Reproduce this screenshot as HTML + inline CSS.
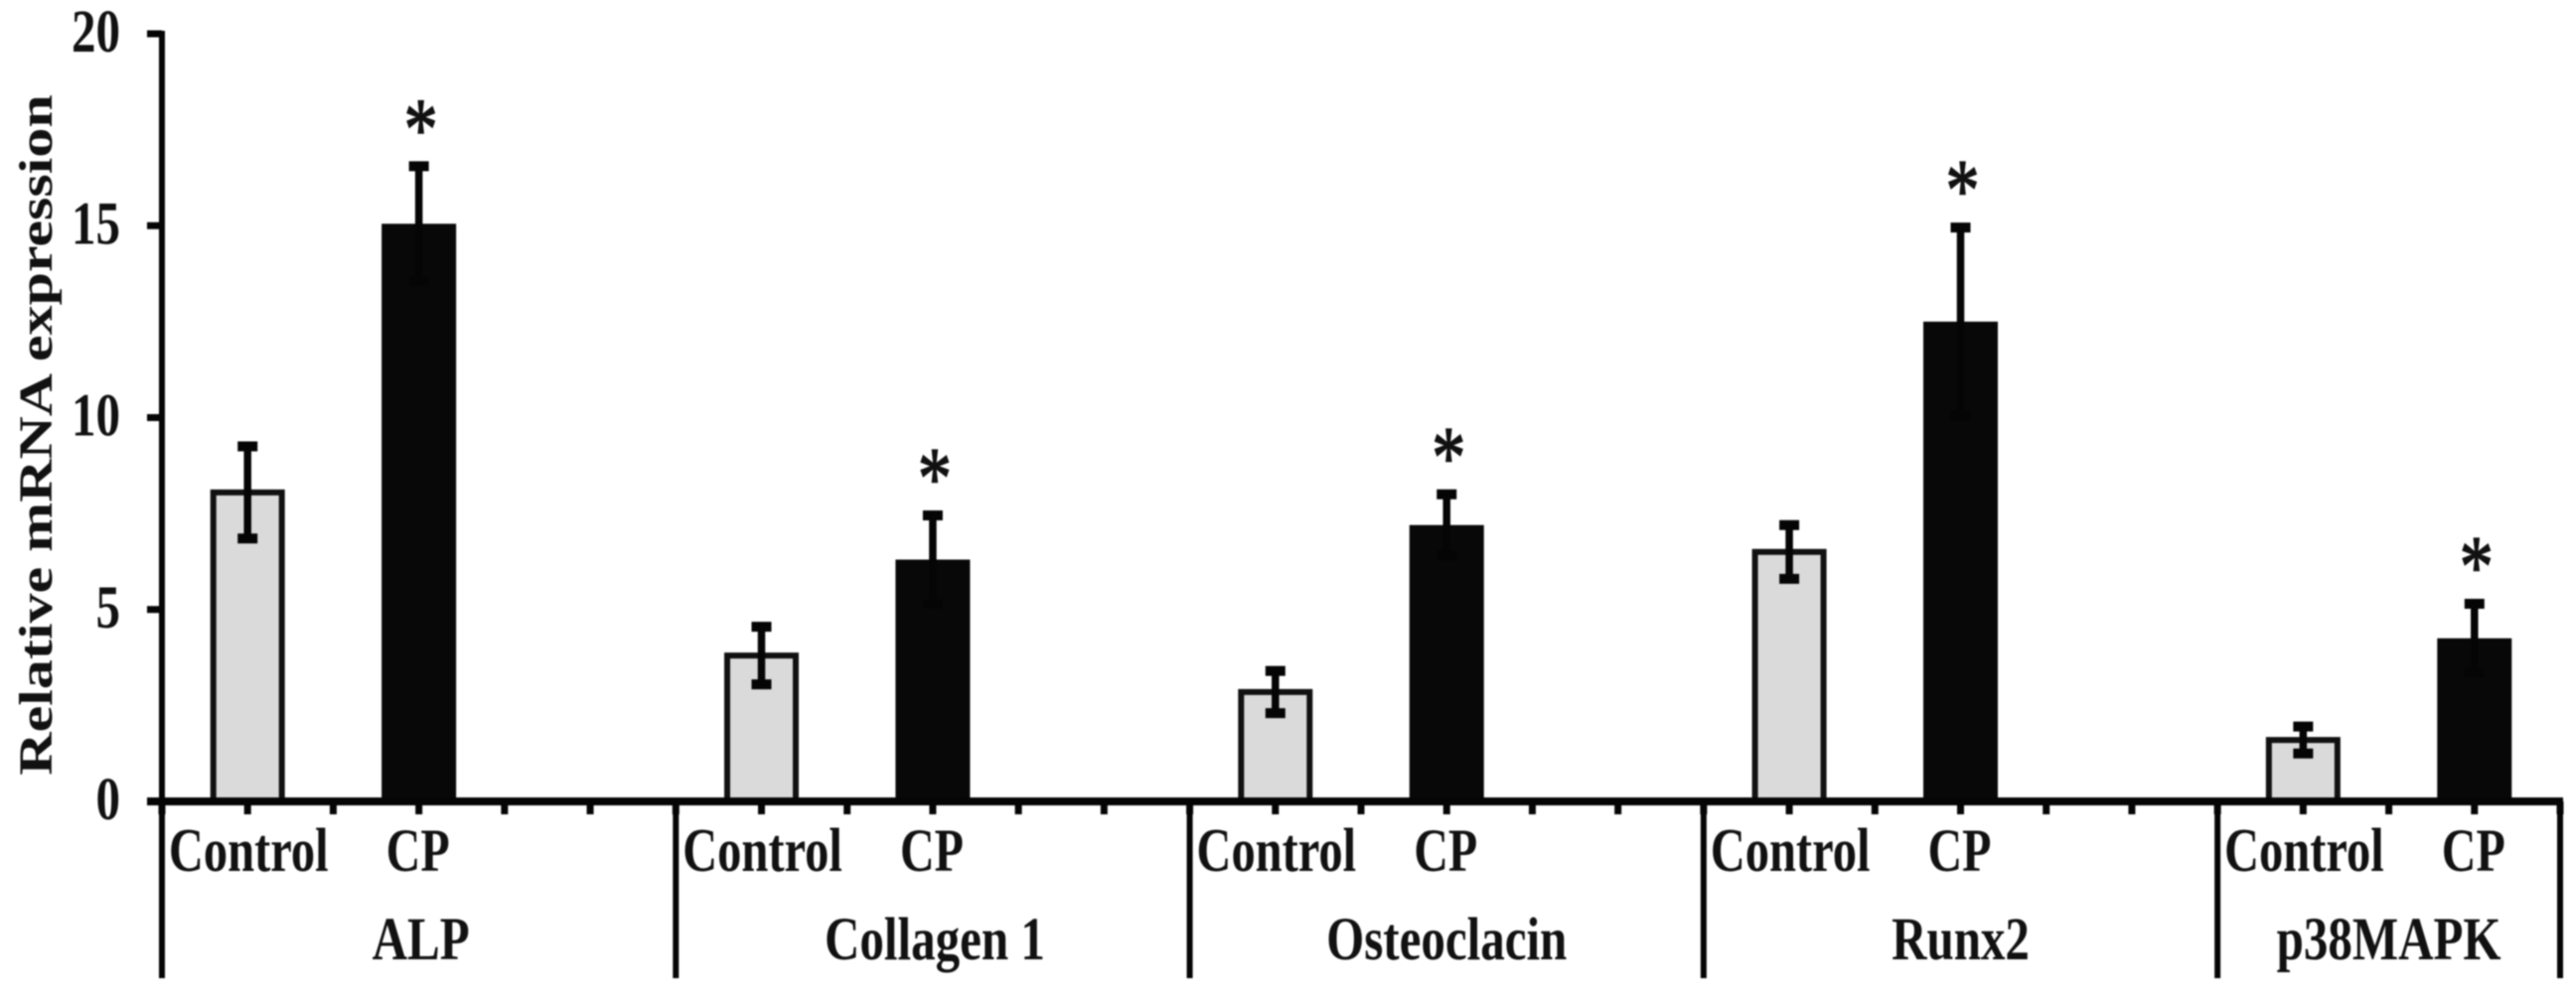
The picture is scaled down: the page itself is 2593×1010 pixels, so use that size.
<!DOCTYPE html>
<html lang="en">
<head>
<meta charset="utf-8">
<title>Relative mRNA expression</title>
<style>
html,body{margin:0;padding:0;background:#fff;width:2593px;height:1010px;overflow:hidden}
svg{display:block;filter:blur(0.9px)}
text{font-family:"Liberation Serif",serif;fill:#111}
</style>
</head>
<body>
<svg id="chart" xmlns="http://www.w3.org/2000/svg" width="2593" height="1010" viewBox="0 0 2593 1010"></svg>
<script>
const groups = ["ALP", "Collagen 1", "Osteoclacin", "Runx2", "p38MAPK"];
const groupSlots = [6, 6, 6, 6, 4];
const seriesNames = ["Control", "CP"];
const controlMeans = [8.05, 3.8, 2.85, 6.5, 1.6];
const cpMeans = [15.05, 6.3, 7.2, 12.5, 4.25];
const controlErrors = [1.2, 0.75, 0.55, 0.7, 0.35];
const cpErrors = [1.5, 1.15, 0.8, 2.45, 0.9];
const significant = [true, true, true, true, true];
const yTicks = [0, 5, 10, 15, 20];
const yTitle = "Relative mRNA expression";

const svg = document.getElementById('chart');
const NS = 'http://www.w3.org/2000/svg';
const plot = {x0: 163, x1: 2577, y0: 807, y1: 34, bottom: 985};
const totalSlots = groupSlots.reduce((a, b) => a + b, 0);
const yMax = yTicks[yTicks.length - 1];
const xScale = s => plot.x0 + (plot.x1 - plot.x0) * s / totalSlots;
const yScale = v => plot.y0 - (plot.y0 - plot.y1) * v / yMax;

function shape(tag, attrs) {
  const el = document.createElementNS(NS, tag);
  for (const k in attrs) el.setAttribute(k, attrs[k]);
  svg.appendChild(el);
  return el;
}
function line(x1, y1, x2, y2, w) {
  return shape('line', {x1, y1, x2, y2, stroke: '#050505', 'stroke-width': w});
}
function label(str, x, y, size, sy, anchor, weight) {
  const el = shape('text', {
    transform: `translate(${x} ${y}) scale(1 ${sy})`,
    'font-size': size, 'font-weight': weight, 'text-anchor': anchor
  });
  el.textContent = str;
  return el;
}

/* y axis title */
const titleEl = shape('text', {
  transform: 'translate(52 438) rotate(-90) scale(1.25 1)',
  'font-size': 48, 'font-weight': 'bold', 'text-anchor': 'middle'
});
titleEl.textContent = yTitle;



/* y ticks and labels */
yTicks.forEach(t => {
  const tickEl = line(148, yScale(t), plot.x0, yScale(t), 7);
  
  
  const labelEl = label(String(t), 121, yScale(t) + 18, 49, 1.26, 'end', 'bold');
  
  
});

/* groups: bars, errors, stars, labels */
let slot = 0;
function drawBar(name, slotPos, mean, err, dark) {
  const cx = xScale(slotPos);
  const w = dark ? 75 : 69;
  const top = yScale(mean);
  const bar = shape('rect', {
    x: cx - w / 2, y: top, width: w, height: plot.y0 - top,
    fill: dark ? '#080808' : '#dadada',
    stroke: dark ? 'none' : '#111',
    'stroke-width': dark ? 0 : 6
  });
  
  
  const stem = line(cx, yScale(mean + err), cx, yScale(mean - err), 7.5);
  
  
  const capTop = line(cx - 10, yScale(mean + err), cx + 10, yScale(mean + err), 10);
  
  
  const capBottom = line(cx - 10, yScale(mean - err), cx + 10, yScale(mean - err), 10);
  
  
}
groups.forEach((g, i) => {
  const key = g.toLowerCase().replace(/\s+/g, '-');
  const start = slot;
  const n = groupSlots[i];
  drawBar(key + '-control', start + 1, controlMeans[i], controlErrors[i], false);
  drawBar(key + '-cp', start + 3, cpMeans[i], cpErrors[i], true);
  if (significant[i]) {
    const star = shape('text', {
      transform: `translate(${xScale(start + 3) + 2} ${yScale(cpMeans[i] + cpErrors[i]) - 8}) scale(1 1.3)`,
      'font-size': 68, 'text-anchor': 'middle', stroke: '#111', 'stroke-width': 1.2
    });
    star.textContent = '*';
    
    
  }
  const ctrlLabel = label(seriesNames[0], xScale(start + 1) + 1, 877, 48.5, 1.28, 'middle', 'bold');
  
  
  const cpLabel = label(seriesNames[1], xScale(start + 3) - 1, 877, 48, 1.28, 'middle', 'bold');
  
  
  const centre = n === 6 ? xScale(start + 3) + (i === 0 ? 2 : i === 1 ? 2 : 0) : xScale(start + 2);
  const groupLabel = label(g, centre, 966, 49, 1.26, 'middle', 'bold');
  
  
  const divider = line(xScale(start), plot.y0, xScale(start), plot.bottom, 6);
  
  
  slot += n;
});
const endDivider = line(plot.x1, plot.y0, plot.x1, plot.bottom, 6);



/* x ticks */
for (let s = 0; s <= totalSlots; s++) {
  const t = line(xScale(s), plot.y0, xScale(s), 820, 7);
  
  
}

/* axes */
const yAxis = line(plot.x0, plot.y1 - 3, plot.x0, plot.y0, 6);


const xAxis = line(148, plot.y0, plot.x1 + 3, plot.y0, 8);


</script>
</body>
</html>
